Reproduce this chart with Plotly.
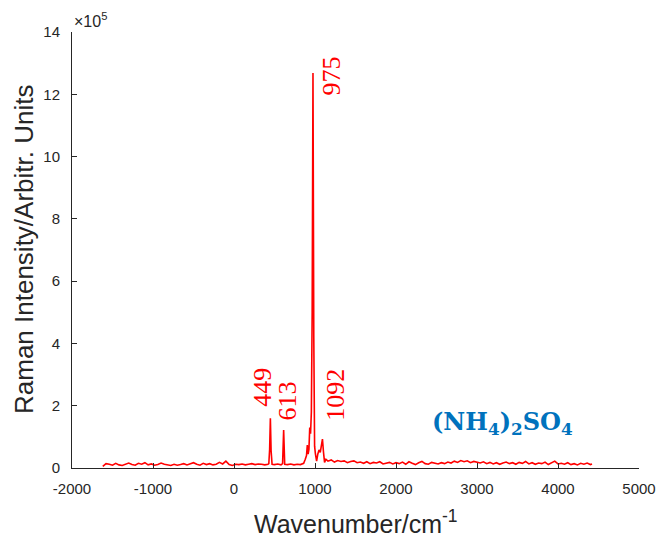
import plotly.graph_objects as go

# Raman spectrum of ammonium sulfate; intensity in units of 1e5 counts
shift_cm = [
    -1620, -1580, -1540, -1500, -1460, -1420, -1380, -1340, -1300, -1260,
    -1220, -1180, -1140, -1100, -1060, -1020, -980, -940, -900, -860,
    -820, -780, -740, -700, -660, -620, -580, -540, -500, -460,
    -420, -380, -340, -300, -260, -220, -180, -140, -100, -60,
    -20, 20, 60, 100, 140, 180, 220, 260, 300, 340,
    380, 420, 430, 440, 449, 458, 470, 500, 540, 580,
    600, 613, 626, 660, 700, 740, 780, 820, 860, 880,
    895, 905, 915, 925, 935, 945, 955, 965, 975, 985,
    995, 1005, 1020, 1035, 1050, 1065, 1080, 1092, 1105, 1118,
    1135, 1150, 1160, 1200, 1240, 1280, 1320, 1360, 1400, 1440,
    1480, 1520, 1560, 1600, 1640, 1680, 1720, 1760, 1800, 1840,
    1880, 1920, 1960, 2000, 2040, 2080, 2120, 2160, 2200, 2240,
    2280, 2320, 2360, 2400, 2440, 2480, 2520, 2560, 2600, 2640,
    2680, 2720, 2760, 2800, 2840, 2880, 2920, 2960, 3000, 3040,
    3080, 3120, 3160, 3200, 3240, 3280, 3320, 3360, 3400, 3440,
    3480, 3520, 3560, 3600, 3640, 3680, 3720, 3760, 3800, 3840,
    3880, 3920, 3960, 4000, 4040, 4080, 4120, 4160, 4200, 4240,
    4280, 4320, 4360, 4400, 4420,
]
intensity_e5 = [
    0.05, 0.14, 0.12, 0.09, 0.15, 0.10, 0.08, 0.13, 0.16, 0.11,
    0.09, 0.15, 0.12, 0.17, 0.10, 0.13, 0.09, 0.11, 0.16, 0.12,
    0.10, 0.08, 0.12, 0.09, 0.11, 0.14, 0.10, 0.13, 0.17, 0.12,
    0.09, 0.15, 0.11, 0.14, 0.10, 0.12, 0.18, 0.13, 0.22, 0.11,
    0.08, 0.12, 0.11, 0.13, 0.10, 0.12, 0.14, 0.11, 0.13, 0.12,
    0.10, 0.12, 0.14, 0.60, 1.60, 0.55, 0.12, 0.11, 0.13, 0.10,
    0.14, 1.22, 0.12, 0.11, 0.13, 0.10, 0.12, 0.11, 0.15, 0.28,
    0.40, 0.74, 0.45, 0.60, 1.30, 1.10, 1.80, 5.00, 12.68, 4.20,
    0.70, 0.45, 0.22, 0.45, 0.58, 0.50, 0.75, 0.93, 0.50, 0.18,
    0.28, 0.22, 0.22, 0.26, 0.19, 0.24, 0.21, 0.23, 0.17, 0.21,
    0.23, 0.17, 0.19, 0.15, 0.20, 0.14, 0.18, 0.16, 0.20, 0.13,
    0.16, 0.18, 0.13, 0.17, 0.14, 0.19, 0.12, 0.20, 0.15, 0.11,
    0.17, 0.21, 0.14, 0.12, 0.18, 0.15, 0.13, 0.17, 0.14, 0.19,
    0.16, 0.22, 0.18, 0.24, 0.20, 0.23, 0.17, 0.21, 0.19, 0.16,
    0.20, 0.14, 0.18, 0.13, 0.17, 0.12, 0.16, 0.19, 0.14, 0.17,
    0.12, 0.18, 0.15, 0.21, 0.13, 0.17, 0.12, 0.16, 0.14, 0.19,
    0.11, 0.16, 0.22, 0.13, 0.15, 0.12, 0.17, 0.11, 0.14, 0.10,
    0.15, 0.12, 0.16, 0.11, 0.13,
]
assert len(shift_cm) == len(intensity_e5)

# Band labels: text, anchor wavenumber, anchor height (1e5 units)
band_labels = ["449", "613", "975", "1092"]
band_label_x = [358, 654, 1210, 1259]
band_label_y = [1.89, 1.48, 11.88, 1.45]

x_ticks = [-2000, -1000, 0, 1000, 2000, 3000, 4000, 5000]
x_tick_text = ["-2000", "-1000", "0", "1000", "2000", "3000", "4000", "5000"]
y_ticks = [0, 2, 4, 6, 8, 10, 12, 14]
y_tick_text = ["0", "2", "4", "6", "8", "10", "12", "14"]

AXIS = "#262626"
SANS = "Liberation Sans, Arial, sans-serif"

fig = go.Figure()
fig.add_trace(go.Scatter(
    x=shift_cm, y=intensity_e5, mode="lines",
    line=dict(color="#FF0000", width=1.6),
    showlegend=False, hoverinfo="skip",
))

annotations = []
for txt, bx, by in zip(band_labels, band_label_x, band_label_y):
    annotations.append(dict(
        x=bx, y=by, xref="x", yref="y", text=txt, showarrow=False,
        textangle=-90, xanchor="center", yanchor="bottom",
        font=dict(family="Liberation Serif, Times New Roman, serif", size=26, color="#FF0000"),
    ))

annotations.append(dict(
    x=2420, y=1.45, xref="x", yref="y", showarrow=False,
    xanchor="left", yanchor="middle",
    text="(NH<sub>4</sub>)<sub>2</sub>SO<sub>4</sub>",
    font=dict(family="DejaVu Serif, serif", size=24, color="#0072BD", weight="bold"),
))

# Exponent marker for the intensity axis
annotations.append(dict(
    x=0, y=1, xref="paper", yref="paper", showarrow=False,
    xanchor="left", yanchor="bottom", yshift=0,
    text="×10<sup>5</sup>",
    font=dict(family=SANS, size=16, color=AXIS),
))

# Axis titles
annotations.append(dict(
    x=0.5, y=0, xref="paper", yref="paper", showarrow=False,
    xanchor="center", yanchor="middle", yshift=-54,
    text="Wavenumber/cm<sup>-1</sup>",
    font=dict(family=SANS, size=25, color=AXIS),
))
annotations.append(dict(
    x=0, y=0.5, xref="paper", yref="paper", showarrow=False,
    xanchor="center", yanchor="middle", xshift=-48, textangle=-90,
    text="Raman Intensity/Arbitr. Units",
    font=dict(family=SANS, size=26, color=AXIS),
))

fig.update_layout(
    width=660, height=536,
    margin=dict(l=72, r=21, t=32, b=68, autoexpand=False),
    paper_bgcolor="white", plot_bgcolor="white",
    annotations=annotations,
    xaxis=dict(
        range=[-2000, 5000], tickvals=x_ticks, ticktext=x_tick_text,
        automargin=False,
        ticks="inside", ticklen=5, tickcolor=AXIS, showline=True,
        linecolor=AXIS, linewidth=1, showgrid=False, zeroline=False,
        tickfont=dict(family=SANS, size=15, color=AXIS),
        ticklabelstandoff=7,
    ),
    yaxis=dict(
        range=[0, 14], tickvals=y_ticks, ticktext=y_tick_text,
        automargin=False,
        ticks="inside", ticklen=5, tickcolor=AXIS, showline=True,
        linecolor=AXIS, linewidth=1, showgrid=False, zeroline=False,
        tickfont=dict(family=SANS, size=15, color=AXIS),
        ticklabelstandoff=8,
    ),
)

fig.write_html("out.html")
